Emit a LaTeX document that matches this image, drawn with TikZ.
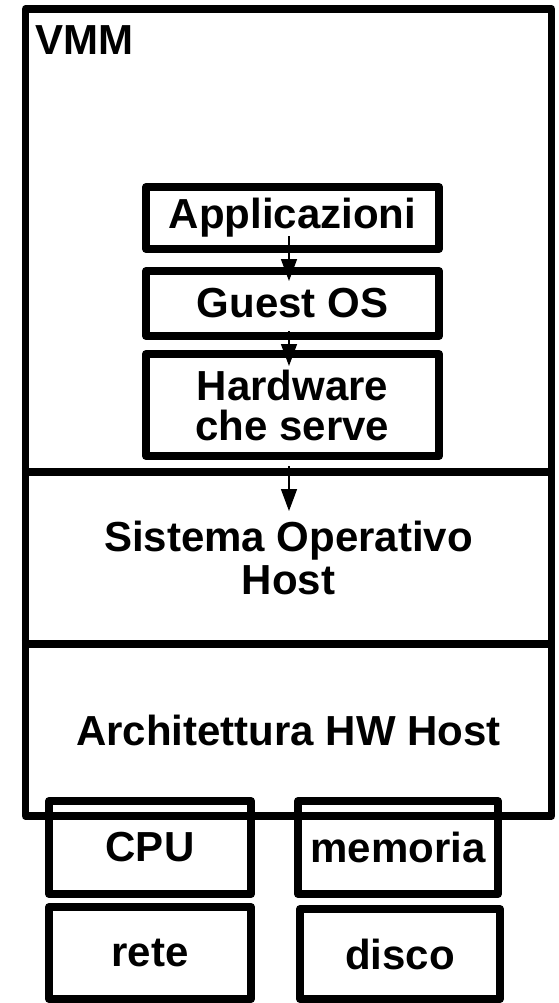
\documentclass[tikz,border=0pt]{standalone}
\usepackage{fontspec}
\setmainfont{Liberation Sans}
\usetikzlibrary{arrows.meta,calc}
\begin{document}
\begin{tikzpicture}[x=1pt,y=-1pt,
  lbl/.style={font=\fontsize{42}{43}\selectfont\bfseries, align=center, inner sep=0pt},
  box/.style={lbl, draw, line width=8pt, line join=round, minimum width=#1},
  box/.default=293,
  flow/.style={line width=1.5pt, -{Triangle[width=16pt,length=22pt]}}]
\useasboundingbox (0,0) rectangle (558,1003);
% outer VMM frame
\node[draw, line width=7.5pt, line join=round, minimum width=526pt, minimum height=807pt, inner sep=0pt] (outer) at (288.5,412.5) {};
\node[lbl, anchor=base west] (vmmlbl) at (35,55) {VMM};
% layer separators
\draw[line width=7.5pt] (outer.west |- 0,472) coordinate (s1l) -- (outer.east |- 0,472) coordinate (s1r);
\draw[line width=7.5pt] (outer.west |- 0,644) coordinate (s2l) -- (outer.east |- 0,644) coordinate (s2r);
\node[lbl] (host) at (288.5,558) {Sistema Operativo\\Host};
\node[lbl] (arch) at (288.5,730) {Architettura HW Host};
% guest stack
\node[box, minimum height=62pt] (app) at (292.5,218) {Applicazioni};
\node[box, minimum height=65pt] (guest) at (292.5,303.5) {Guest OS};
\node[box, minimum height=102pt] (hw) at (292.5,405) {Hardware\\[-3pt]che serve};
% arrows
\coordinate (hostin) at ($(hw.south)+(-3.5,51)$);
\draw[flow] ($(app.south)+(-3.5,-17)$) -- ($(guest.north)+(-3.5,14)$);
\draw[flow] ($(guest.south)+(-3.5,-9)$) -- ($(hw.north)+(-3.5,16)$);
\draw[flow] ($(hw.south)+(-3.5,6)$) -- (hostin);
% physical devices
\node[box=202pt, minimum height=93pt] (cpu) at (150,847.5) {CPU};
\node[box=200pt, minimum height=93pt] (mem) at (398,847.5) {memoria};
\node[box=202pt, minimum height=92pt] (rete) at (150,953) {rete};
\node[box=200pt, minimum height=90pt] (disco) at (400,954) {disco};
\end{tikzpicture}
\end{document}
